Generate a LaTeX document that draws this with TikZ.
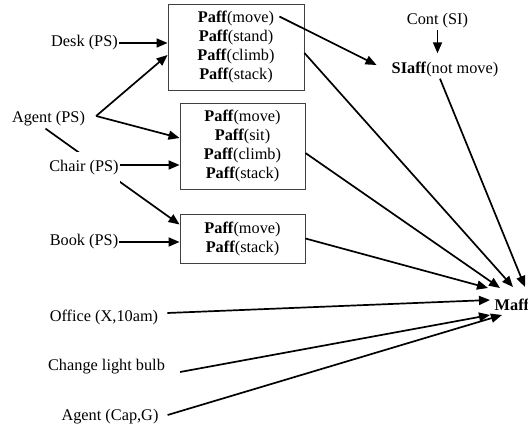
\documentclass[tikz,border=0pt]{standalone}
\usepackage{fontspec}
\setmainfont{Liberation Serif}
\usepackage{tikz}
\usetikzlibrary{arrows.meta, calc}

\newcommand{\paff}[1]{\textbf{Paff}(#1)}

\begin{document}
\begin{tikzpicture}[
    x=1pt, y=-1pt,
    every node/.style={font=\fontsize{16.3}{19}\selectfont},
    word/.style={inner sep=1pt},
    affbox/.style={rectangle, draw=black!75, line width=0.9pt, align=center, minimum width=125pt, minimum height=86pt},
    arrow/.style={-{Triangle[length=11pt, width=9pt]}, line width=1.7pt},
]
\useasboundingbox (0,0) rectangle (528,427);

% affordance boxes
\node[affbox, minimum width=136pt] (box1) at (236,47) {\paff{move}\\\paff{stand}\\\paff{climb}\\\paff{stack}};
\node[affbox] (box2) at (242.5,146) {\paff{move}\\\paff{sit}\\\paff{climb}\\\paff{stack}};
\node[affbox, minimum height=49pt] (box3) at (242.5,238.5) {\paff{move}\\\paff{stack}};

% objects and agent
\node[word] (desk) at (84.5,43) {Desk (PS)};
\node[word] (agentps) at (48.5,119) {Agent (PS)};
\node[word] (book) at (84,242) {Book (PS)};
\node[word] (office) at (104,317) {Office (X,10am)};
\node[word] (bulb) at (106.5,367) {Change light bulb};
\node[word] (agentcap) at (110,417) {Agent (Cap,G)};

% SI and M
\node[word] (cont) at (437.5,21) {Cont (SI)};
\node[word] (siaff) at (445,70) {\textbf{SIaff}(not move)};
\node[word] (maff) at (512,305) {\textbf{Maff}};

% agent to the boxes (the last one runs behind the chair)
\draw[arrow] ($(agentps.east)+(10,-3)$) -- ($(box1.west)+(0,8)$);
\draw[arrow] ($(agentps.east)+(10,-3)$) -- ($(box2.west)+(0,-8)$);
\draw[arrow] ($(agentps.south)+(-3,1)$) -- ($(box3.west)+(0,-14)$);

\node[word, fill=white, inner ysep=8.6pt] (chair) at (84,168) {Chair (PS)};

\draw[arrow] (desk.east) -- (desk.east -| box1.west);
\draw[arrow] ([yshift=3pt]chair.east) -- ([yshift=3pt]chair.east -| box2.west);
\draw[arrow] (book.east) -- (book.east -| box3.west);

% SIaff
\draw[arrow] ($(box1.north east)+(-25,13)$) -- ($(siaff.west)+(-14,-5)$);
\draw[arrow] (cont.south) -- ($(cont.south |- siaff.north)+(0,-8)$);

% into Maff
\draw[arrow] ($(box1.east)+(0,6)$) -- ($(maff)+(1,-18)$);
\draw[arrow] ($(box2.east)+(0,7)$) -- ($(maff)+(-12,-17)$);
\draw[arrow] (box3.east) -- ($(maff)+(-24,-17)$);
\draw[arrow] ($(siaff.south)+(-5,0)$) -- ($(maff)+(13,-18)$);
\draw[arrow] ($(office.east)+(8,-4)$) -- ($(maff)+(-22,-5)$);
\draw[arrow] ($(bulb.east)+(14,5)$) -- ($(maff)+(-22,10)$);
\draw[arrow] ($(agentcap.east)+(8,-2)$) -- ($(maff)+(-10,10)$);
\end{tikzpicture}
\end{document}
